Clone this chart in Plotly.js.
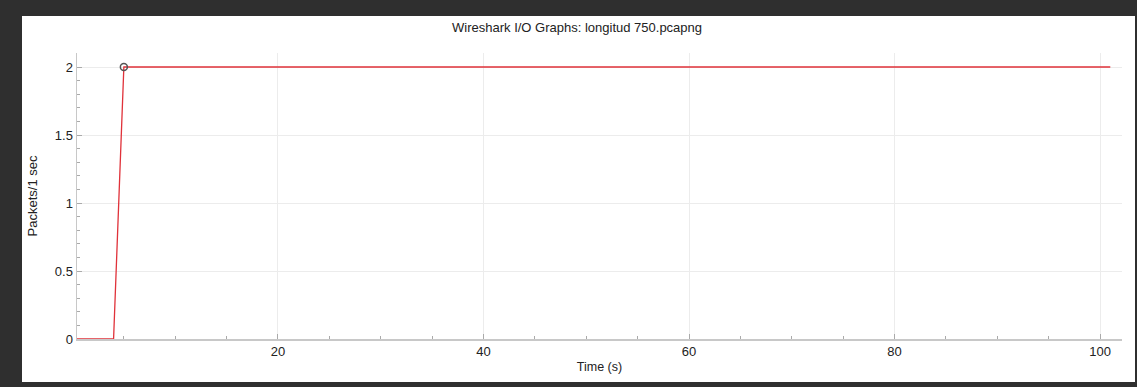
<!DOCTYPE html>
<html>
<head>
<meta charset="utf-8">
<script src="https://cdn.plot.ly/plotly-3.0.1.min.js"></script>
<style>
html,body{margin:0;padding:0;background:#2f2f2f;}
#chart{width:1137px;height:387px;}
</style>
</head>
<body>
<div id="chart"></div>
<script>
// Data: packets per 1-second interval
const timeSeconds = [0,1,2,3,4,5,6,7,8,9,10,11,12,13,14,15,16,17,18,19,20,21,22,23,24,25,26,27,28,29,30,31,32,33,34,35,36,37,38,39,40,41,42,43,44,45,46,47,48,49,50,51,52,53,54,55,56,57,58,59,60,61,62,63,64,65,66,67,68,69,70,71,72,73,74,75,76,77,78,79,80,81,82,83,84,85,86,87,88,89,90,91,92,93,94,95,96,97,98,99,100,101];
const packetsPerSec = [0,0,0,0,0,2,2,2,2,2,2,2,2,2,2,2,2,2,2,2,2,2,2,2,2,2,2,2,2,2,2,2,2,2,2,2,2,2,2,2,2,2,2,2,2,2,2,2,2,2,2,2,2,2,2,2,2,2,2,2,2,2,2,2,2,2,2,2,2,2,2,2,2,2,2,2,2,2,2,2,2,2,2,2,2,2,2,2,2,2,2,2,2,2,2,2,2,2,2,2,2,2];
const markedPointX = [5];
const markedPointY = [2];
const xTickValues = [20,40,60,80,100];
const yTickValues = [0,0.5,1,1.5,2];
const yTickLabels = ["0","0.5","1","1.5","2"];

const font = "Liberation Sans, Arial, sans-serif";

const traces = [
  {
    x: timeSeconds, y: packetsPerSec, type: "scatter", mode: "lines",
    line: {color: "#e0323a", width: 1.3},
    hoverinfo: "skip", showlegend: false
  },
  {
    x: markedPointX, y: markedPointY, type: "scatter", mode: "markers",
    marker: {symbol: "circle-open", size: 7, color: "#555555", line: {width: 1.5, color: "#555555"}},
    showlegend: false
  }
];

const layout = {
  width: 1137, height: 387,
  margin: {l: 77, r: 15, t: 53, b: 48, pad: 0},
  paper_bgcolor: "#2f2f2f",
  plot_bgcolor: "rgba(0,0,0,0)",
  showlegend: false,
  title: {
    text: "Wireshark I/O Graphs: longitud 750.pcapng",
    font: {family: font, size: 13, color: "#222222"},
    x: 0.4785, xref: "paper", xanchor: "center",
    y: 1.0 - 27/387, yref: "container", yanchor: "middle"
  },
  xaxis: {
    range: [0.44, 102.14],
    tickmode: "array", tickvals: xTickValues, ticktext: xTickValues.map(String),
    ticks: "inside", ticklen: 5, tickcolor: "#aaaaaa", tickwidth: 1,
    minor: {dtick: 5, ticks: "inside", ticklen: 3, tickcolor: "#aaaaaa", showgrid: false},
    showgrid: true, gridcolor: "#ececec", gridwidth: 1,
    zeroline: false,
    showline: true, linecolor: "#c8c8c8", linewidth: 1.5,
    tickfont: {family: font, size: 13, color: "#222222"},
    title: {text: "Time (s)", font: {family: font, size: 12.5, color: "#222222"}, standoff: 4},
    fixedrange: true
  },
  yaxis: {
    range: [0, 2.103],
    tickmode: "array", tickvals: yTickValues, ticktext: yTickLabels,
    ticks: "inside", ticklen: 5, tickcolor: "#aaaaaa", tickwidth: 1,
    minor: {dtick: 0.1, ticks: "inside", ticklen: 3, tickcolor: "#aaaaaa", showgrid: false},
    showgrid: true, gridcolor: "#ececec", gridwidth: 1,
    zeroline: false,
    showline: true, linecolor: "#c8c8c8", linewidth: 1.5,
    tickfont: {family: font, size: 13, color: "#222222"},
    title: {text: "Packets/1 sec", font: {family: font, size: 13, color: "#222222"}, standoff: 14},
    fixedrange: true
  },
  shapes: [
    {
      type: "rect", xref: "paper", yref: "paper", layer: "below",
      x0: (22 - 77) / 1045, x1: (1135 - 77) / 1045,
      y0: (339 - 382) / 286, y1: (339 - 16) / 286,
      fillcolor: "#ffffff", line: {width: 0}
    }
  ]
};

Plotly.newPlot("chart", traces, layout, {displayModeBar: false, staticPlot: true});
</script>
</body>
</html>
